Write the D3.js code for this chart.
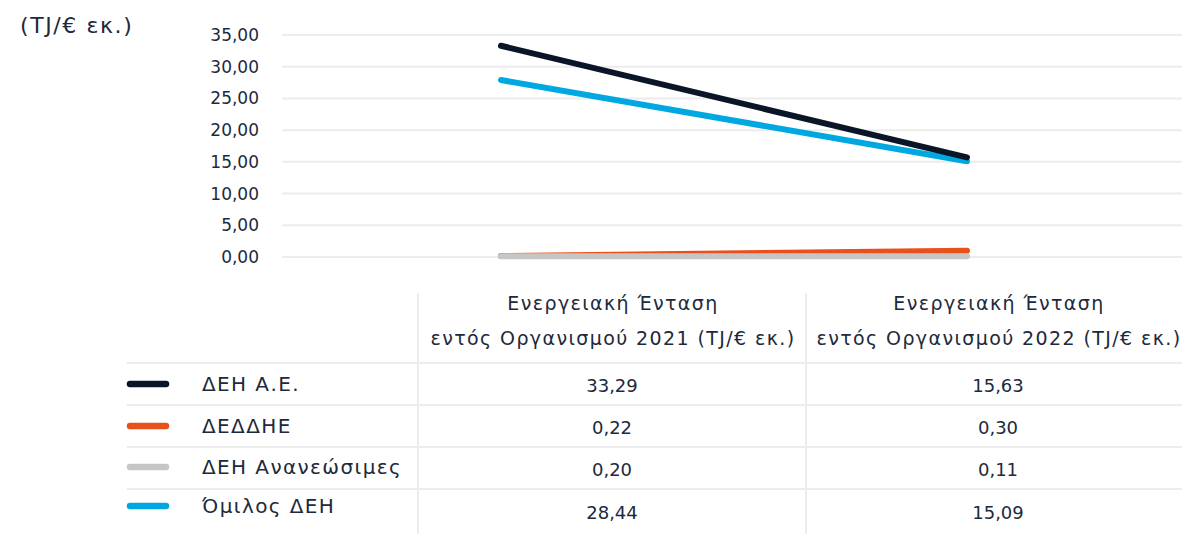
<!DOCTYPE html>
<html>
<head>
<meta charset="utf-8">
<script src="https://cdn.jsdelivr.net/npm/d3@7"></script>
<style>
  body { margin: 0; background: #fff; }
  svg { display: block; font-family: "DejaVu Sans", sans-serif; }
</style>
</head>
<body>
<svg width="1182" height="534"></svg>
<script>
// data (table values as printed, line ends)
var categories = ["Ενεργειακή Ένταση εντός Οργανισμού 2021 (TJ/€ εκ.)",
                  "Ενεργειακή Ένταση εντός Οργανισμού 2022 (TJ/€ εκ.)"];
var seriesNames = ["ΔΕΗ Α.Ε.", "ΔΕΔΔΗΕ", "ΔΕΗ Ανανεώσιμες", "Όμιλος ΔΕΗ"];
var values2021 = [33.29, 0.22, 0.20, 28.44];
var values2022 = [15.63, 0.30, 0.11, 15.09];
var plotted2021 = [33.3, 0.15, 0.1, 27.9];
var plotted2022 = [15.7, 1.0, 0.1, 15.1];
var yTicks = [0, 5, 10, 15, 20, 25, 30, 35];
var colors = ["#0a1628", "#e8501c", "#c6c6c6", "#00a8e1"];

var locale = d3.formatLocale({decimal: ",", thousands: ".", grouping: [3], currency: ["", "€"]});
var fmt = locale.format(".2f");

var svg = d3.select("svg"),
    textColor = "#1c2a3c";

var series = seriesNames.map(function (n, i) {
    return {
        name: n,
        color: colors[i],
        values: [values2021[i], values2022[i]],
        plotted: [plotted2021[i], plotted2022[i]]
    };
});

// scales
var y = d3.scaleLinear().domain([0, 35]).range([257, 35]);
var x = d3.scalePoint().domain(categories).range([501, 967]);

// unit label
svg.append("text")
    .attr("x", 20).attr("y", 33)
    .attr("font-size", 22)
    .attr("letter-spacing", 1.6)
    .attr("fill", textColor)
    .text("(TJ/€ εκ.)");

// grid + tick labels
svg.append("g").selectAll("line")
    .data(yTicks)
    .enter().append("line")
    .attr("x1", 282).attr("x2", 1182)
    .attr("y1", function (d) { return y(d); })
    .attr("y2", function (d) { return y(d); })
    .attr("stroke", "#ececec")
    .attr("stroke-width", 2);

var yAxis = svg.append("g")
    .attr("transform", "translate(262,0)")
    .call(d3.axisLeft(y).tickValues(yTicks).tickFormat(fmt).tickSize(0).tickPadding(3));
yAxis.select(".domain").remove();
yAxis.selectAll("text")
    .attr("font-size", 17)
    .attr("font-family", "DejaVu Sans, sans-serif")
    .attr("fill", textColor);

// lines
var line = d3.line()
    .x(function (d, i) { return x(categories[i]); })
    .y(function (d) { return y(d); });

var drawOrder = [1, 2, 3, 0];
svg.append("g").selectAll("path")
    .data(drawOrder.map(function (i) { return series[i]; }))
    .enter().append("path")
    .attr("d", function (d) { return line(d.plotted); })
    .attr("fill", "none")
    .attr("stroke", function (d) { return d.color; })
    .attr("stroke-width", 6)
    .attr("stroke-linecap", "round");

// data table
var table = svg.append("g").attr("fill", textColor).attr("font-size", 18);
var colEdges = [418, 806, 1182];
var labelY = [384, 426, 467, 506];
var valueY = [386, 428, 470, 513];
var rowLines = [363, 405, 447, 489];

table.selectAll("line.h")
    .data(rowLines)
    .enter().append("line")
    .attr("class", "h")
    .attr("x1", 127).attr("x2", 1182)
    .attr("y1", function (d) { return d; })
    .attr("y2", function (d) { return d; })
    .attr("stroke", "#ececec")
    .attr("stroke-width", 2);

table.selectAll("line.v")
    .data(colEdges.slice(0, 2))
    .enter().append("line")
    .attr("class", "v")
    .attr("x1", function (d) { return d; })
    .attr("x2", function (d) { return d; })
    .attr("y1", 293).attr("y2", 534)
    .attr("stroke", "#ececec")
    .attr("stroke-width", 2);

function colCenter(i) {
    return (colEdges[i] + colEdges[i + 1]) / 2 + (i === 1 ? 4 : 0);
}

// header
categories.forEach(function (c, i) {
    var cx = colCenter(i) + 1;
    var words = c.split(" ");
    var t = table.append("text")
        .attr("text-anchor", "middle")
        .attr("font-size", 19)
        .attr("letter-spacing", 1.4)
        .attr("x", cx);
    t.append("tspan").attr("x", cx).attr("y", 310).text(words.slice(0, 2).join(" "));
    t.append("tspan").attr("x", cx).attr("y", 345).text(words.slice(2).join(" "));
});

// rows
series.forEach(function (s, r) {
    table.append("line")
        .attr("x1", 130).attr("x2", 166)
        .attr("y1", labelY[r]).attr("y2", labelY[r])
        .attr("stroke", s.color)
        .attr("stroke-width", 6.5)
        .attr("stroke-linecap", "round");
    table.append("text")
        .attr("x", 202).attr("y", labelY[r])
        .attr("dy", "0.35em")
        .attr("font-size", 20)
        .attr("letter-spacing", 1.4)
        .text(s.name);
    s.values.forEach(function (v, i) {
        table.append("text")
            .attr("x", colCenter(i)).attr("y", valueY[r])
            .attr("dy", "0.35em")
            .attr("text-anchor", "middle")
            .text(fmt(v));
    });
});
</script>
</body>
</html>
